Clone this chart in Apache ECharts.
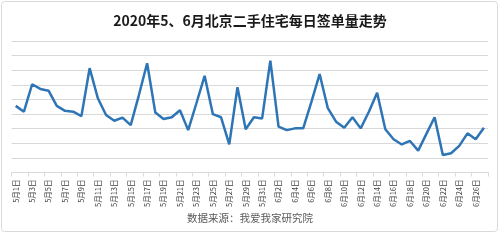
<!DOCTYPE html>
<html><head><meta charset="utf-8">
<script src="https://cdn.jsdelivr.net/npm/echarts@6/dist/echarts.min.js"></script>
<style>html,body{margin:0;padding:0;background:#fff}#c{width:500px;height:242px}</style>
</head><body><div id="c"></div>
<script>
const categories = ['5月1日','5月2日','5月3日','5月4日','5月5日','5月6日','5月7日','5月8日','5月9日','5月10日',
'5月11日','5月12日','5月13日','5月14日','5月15日','5月16日','5月17日','5月18日','5月19日','5月20日',
'5月21日','5月22日','5月23日','5月24日','5月25日','5月26日','5月27日','5月28日','5月29日','5月30日','5月31日',
'6月1日','6月2日','6月3日','6月4日','6月5日','6月6日','6月7日','6月8日','6月9日','6月10日',
'6月11日','6月12日','6月13日','6月14日','6月15日','6月16日','6月17日','6月18日','6月19日','6月20日',
'6月21日','6月22日','6月23日','6月24日','6月25日','6月26日','6月27日'];
const signings = [228,208,302,286,280,228,211,208,193,357,
254,197,177,188,162,265,374,205,183,189,
213,145,237,331,200,189,96,292,148,189,185,
383,157,145,151,151,242,337,220,174,153,
189,151,208,273,148,114,96,108,75,132,
189,60,66,91,134,114,153];
const titleText = '2020年5、6月北京二手住宅每日签单量走势';
const sourceText = '数据来源：我爱我家研究院';
const font = '"Noto Sans CJK SC", "Noto Sans", sans-serif';

const chart = echarts.init(document.getElementById('c'), null, {renderer:'canvas'});
chart.setOption({
  animation: false,
  backgroundColor: '#fff',
  title: {
    text: titleText, left: 'center', top: 9,
    textStyle: {fontFamily: font, fontSize: 14, fontWeight: 'bold', color: '#1a1a1a'}
  },
  graphic: [
    {type:'rect', shape:{x:1.5, y:1.5, width:496, height:230, r:3}, style:{fill:'none', stroke:'#d9d9d9', lineWidth:1}, silent:true, z:-1},
    {type:'text', left:'center', top: 213, style:{text: sourceText, font: '10.5px ' + font, fill:'#595959'}}
  ],
  grid: {left: 11.6, right: 12, top: 41, bottom: 69.5, containLabel: false},
  xAxis: {
    type: 'category', data: categories, boundaryGap: true,
    axisLine: {show: true, lineStyle: {color: '#d9d9d9', width: 1}},
    axisTick: {show: true, interval: 1, length: 4, lineStyle: {color: '#d9d9d9'}},
    axisLabel: {interval: 1, rotate: 90, margin: 7, fontSize: 7.5, color: '#404040', fontFamily: font}
  },
  yAxis: {
    type: 'value', min: 0, max: 450, interval: 50,
    axisLabel: {show: false}, axisLine: {show: false}, axisTick: {show: false},
    splitLine: {show: true, lineStyle: {color: '#d9d9d9', width: 1}}
  },
  series: [{
    type: 'line', data: signings, showSymbol: false, symbol: 'none',
    lineStyle: {color: '#2E75B6', width: 2.5}
  }]
});
</script></body></html>
